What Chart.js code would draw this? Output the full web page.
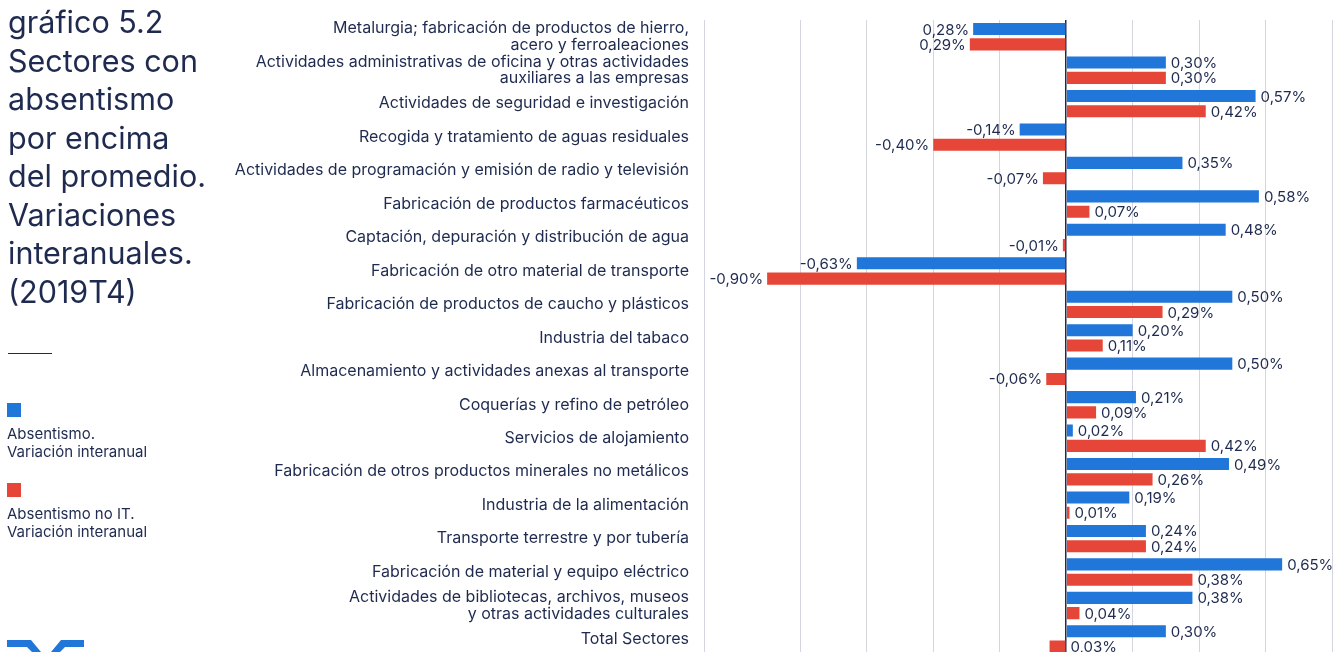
<!DOCTYPE html>
<html lang="es">
<head>
<meta charset="utf-8">
<title>gráfico 5.2</title>
<script src="https://cdn.jsdelivr.net/npm/chart.js@4.4.1/dist/chart.umd.min.js"></script>
<style>
  html, body { margin: 0; padding: 0; background: #fff; overflow: hidden; }
  body { width: 1344px; height: 652px; position: relative; font-family: Inter, "Noto Sans", sans-serif; color: #1e2a4f; }
  #wrap { position: absolute; left: 0; top: -4px; width: 1344px; height: 700px; }
  #title { position: absolute; left: 8px; top: 3px; font-size: 30.5px; line-height: 38.5px; margin: 0; font-weight: 400; }
  #rule { position: absolute; left: 8px; top: 353px; width: 44px; height: 1px; background: #1e2a4f; }
  .leg { position: absolute; left: 7px; font-size: 15px; line-height: 18px; }
  .leg i { display: block; width: 14px; height: 14px; margin-bottom: 8px; }
  #logo { position: absolute; left: 0; top: 630px; }
</style>
</head>
<body>
<div id="wrap"><canvas id="chart"></canvas></div>
<h1 id="title">gráfico 5.2<br>Sectores con<br>absentismo<br>por encima<br>del promedio.<br>Variaciones<br>interanuales.<br>(2019T4)</h1>
<div id="rule"></div>
<div class="leg" style="top:403px"><i style="background:#2176d9"></i>Absentismo.<br>Variación interanual</div>
<div class="leg" style="top:483px"><i style="background:#e64637"></i>Absentismo no IT.<br>Variación interanual</div>
<svg id="logo" width="100" height="22">
  <path d="M7 10 H31 L41 22 H32 L27 17 H7 Z" fill="#2176d9"/>
  <path d="M84 10 H61 L51 22 H60 L65 17 H84 Z" fill="#2176d9"/>
</svg>
<script>
const sectors = [
    ['Metalurgia; fabricación de productos de hierro,', 'acero y ferroaleaciones'],
    ['Actividades administrativas de oficina y otras actividades', 'auxiliares a las empresas'],
    'Actividades de seguridad e investigación',
    'Recogida y tratamiento de aguas residuales',
    'Actividades de programación y emisión de radio y televisión',
    'Fabricación de productos farmacéuticos',
    'Captación, depuración y distribución de agua',
    'Fabricación de otro material de transporte',
    'Fabricación de productos de caucho y plásticos',
    'Industria del tabaco',
    'Almacenamiento y actividades anexas al transporte',
    'Coquerías y refino de petróleo',
    'Servicios de alojamiento',
    'Fabricación de otros productos minerales no metálicos',
    'Industria de la alimentación',
    'Transporte terrestre y por tubería',
    'Fabricación de material y equipo eléctrico',
    ['Actividades de bibliotecas, archivos, museos', 'y otras actividades culturales'],
    'Total Sectores'
];

const absentismo = [-0.28, 0.30, 0.57, -0.14, 0.35, 0.58, 0.48, -0.63, 0.50, 0.20,
    0.50, 0.21, 0.02, 0.49, 0.19, 0.24, 0.65, 0.38, 0.30];
const absentismoNoIT = [-0.29, 0.30, 0.42, -0.40, -0.07, 0.07, -0.01, -0.90, 0.29, 0.11,
    -0.06, 0.09, 0.42, 0.26, 0.01, 0.24, 0.38, 0.04, -0.05];

// texts as printed on the original (some drop the minus sign)
const absentismoText = ['0,28%', '0,30%', '0,57%', '-0,14%', '0,35%', '0,58%', '0,48%', '-0,63%', '0,50%', '0,20%',
    '0,50%', '0,21%', '0,02%', '0,49%', '0,19%', '0,24%', '0,65%', '0,38%', '0,30%'];
const absentismoNoITText = ['0,29%', '0,30%', '0,42%', '-0,40%', '-0,07%', '0,07%', '-0,01%', '-0,90%', '0,29%', '0,11%',
    '-0,06%', '0,09%', '0,42%', '0,26%', '0,01%', '0,24%', '0,38%', '0,04%', '0,03%'];

const gridTicks = [-0.8, -0.6, -0.4, -0.2, 0, 0.2, 0.4, 0.6, 0.8];

const navy = '#1e2a4f';
const gridColor = '#d5d5e2';

const valueLabels = {
    id: 'valueLabels',
    afterDatasetsDraw(chart) {
        const ctx = chart.ctx;
        const texts = [absentismoText, absentismoNoITText];
        ctx.save();
        ctx.font = '15px Inter, "Noto Sans", sans-serif';
        ctx.fillStyle = navy;
        ctx.textBaseline = 'middle';
        chart.data.datasets.forEach((ds, i) => {
            chart.getDatasetMeta(i).data.forEach((bar, j) => {
                const v = ds.data[j];
                // the "Total" red label sits on the right of the zero line in the original
                const rightSide = v >= 0 || (i === 1 && j === ds.data.length - 1);
                if (rightSide) {
                    ctx.textAlign = 'left';
                    ctx.fillText(texts[i][j], Math.max(bar.x, bar.base) + 5, bar.y + 1);
                } else {
                    ctx.textAlign = 'right';
                    ctx.fillText(texts[i][j], bar.x - 4, bar.y + 1);
                }
            });
        });
        ctx.restore();
    }
};

const chart = new Chart(document.getElementById('chart'), {
    type: 'bar',
    data: {
        labels: sectors,
        datasets: [
            { label: 'Absentismo. Variación interanual', data: absentismo, backgroundColor: '#2176d9' },
            { label: 'Absentismo no IT. Variación interanual', data: absentismoNoIT, backgroundColor: '#e64637' }
        ]
    },
    options: {
        indexAxis: 'y',
        responsive: true,
        maintainAspectRatio: false,
        animation: false,
        categoryPercentage: 0.915,
        barPercentage: 0.79,
        layout: { padding: { top: 24, bottom: 40.3, right: 12, left: 0 } },
        scales: {
            x: {
                min: -1.09,
                max: 0.8,
                afterBuildTicks: (axis) => { axis.ticks = gridTicks.map(v => ({ value: v })); },
                ticks: { display: false },
                grid: {
                    drawTicks: false,
                    color: (c) => Math.abs(c.tick.value) < 1e-9 ? navy : gridColor,
                    lineWidth: (c) => Math.abs(c.tick.value) < 1e-9 ? 1.5 : 1
                },
                border: { display: false }
            },
            y: {
                afterFit: (scale) => { scale.width = 704; },
                ticks: {
                    autoSkip: false,
                    padding: 15,
                    color: navy,
                    font: { family: 'Inter, "Noto Sans", sans-serif', size: 16, lineHeight: 1.06 }
                },
                grid: { display: false, drawTicks: false },
                border: { display: true, color: gridColor, width: 1 }
            }
        },
        plugins: {
            legend: { display: false },
            tooltip: { enabled: false }
        }
    },
    plugins: [valueLabels]
});
</script>
</body>
</html>
